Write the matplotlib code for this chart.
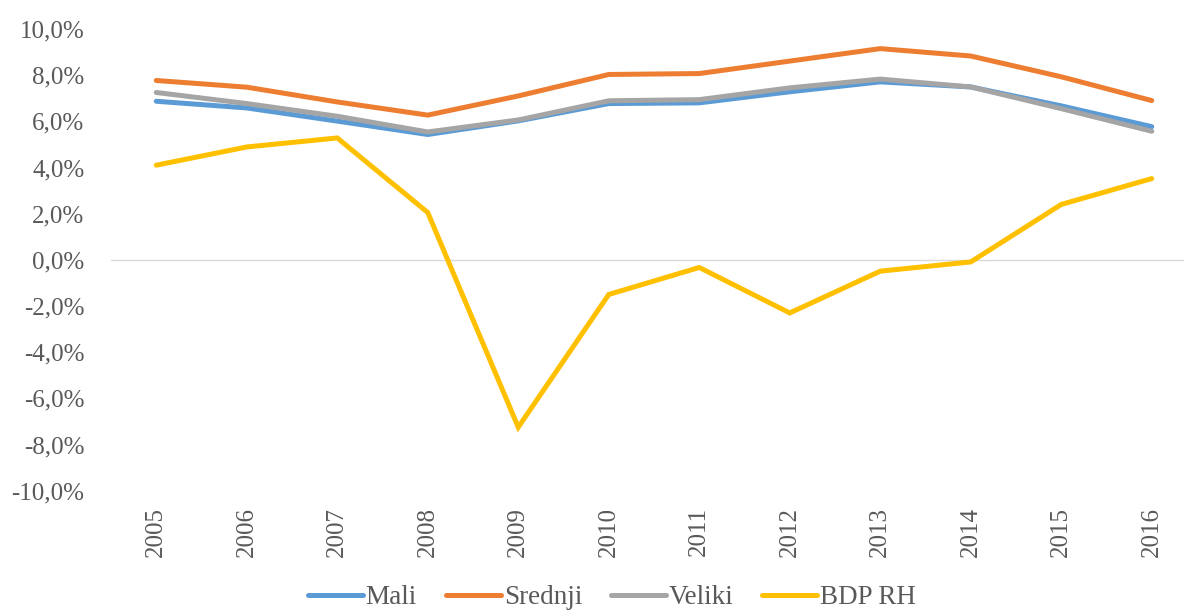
import matplotlib
matplotlib.use('Agg')
import matplotlib.pyplot as plt
import numpy as np
from matplotlib.ticker import FuncFormatter

plt.rcParams['font.family'] = ['Liberation Serif', 'DejaVu Serif']

# data (growth, %)
years = ['2005', '2006', '2007', '2008', '2009', '2010',
         '2011', '2012', '2013', '2014', '2015', '2016']
mali = [6.87, 6.58, 6.01, 5.43, 6.02, 6.77, 6.80, 7.28, 7.71, 7.49, 6.67, 5.77]
srednji = [7.77, 7.48, 6.84, 6.27, 7.10, 8.03, 8.07, 8.61, 9.15, 8.83, 7.93, 6.90]
veliki = [7.25, 6.77, 6.22, 5.54, 6.06, 6.89, 6.94, 7.45, 7.83, 7.49, 6.55, 5.57]
bdp_rh = [4.10, 4.89, 5.28, 2.05, -7.25, -1.50, -0.33, -2.30, -0.49, -0.09, 2.40, 3.52]

series = [('Mali', mali, '#5B9BD5'),
          ('Srednji', srednji, '#ED7D31'),
          ('Veliki', veliki, '#A5A5A5'),
          ('BDP RH', bdp_rh, '#FFC000')]

text_color = '#595959'

fig = plt.figure(figsize=(11.84, 6.12), dpi=100)
ax = fig.add_axes([111 / 1184, 1 - 490.7 / 612, (1197 - 111) / 1184, (490.7 - 29) / 612])

x = np.arange(len(years))
for name, vals, col in series:
    ax.plot(x, vals, color=col, linewidth=3.6, label=name,
            solid_capstyle='round', solid_joinstyle='miter')

ax.axhline(0, color='#D9D9D9', linewidth=1.0, zorder=0)

ax.set_ylim(-10, 10)
ax.set_xlim(-0.5, len(years) - 0.5)
ax.set_yticks(np.arange(-10, 11, 2))
ax.yaxis.set_major_formatter(FuncFormatter(lambda v, p: ('%.1f%%' % v).replace('.', ',')))
ax.set_xticks(x)
ax.set_xticklabels(years, rotation=90)

for s in ax.spines.values():
    s.set_visible(False)
ax.tick_params(axis='y', length=0, pad=19, labelsize=18, labelcolor=text_color)
ax.tick_params(axis='x', length=0, pad=12, labelsize=18, labelcolor=text_color)

leg = fig.legend(loc='center', bbox_to_anchor=(612 / 1184, 1 - 598 / 612),
                 ncol=4, frameon=False, fontsize=19.5, handlelength=2.03,
                 handletextpad=0.1, columnspacing=1.07)
for t in leg.get_texts():
    t.set_color(text_color)

fig.savefig('out.png', dpi=100)
